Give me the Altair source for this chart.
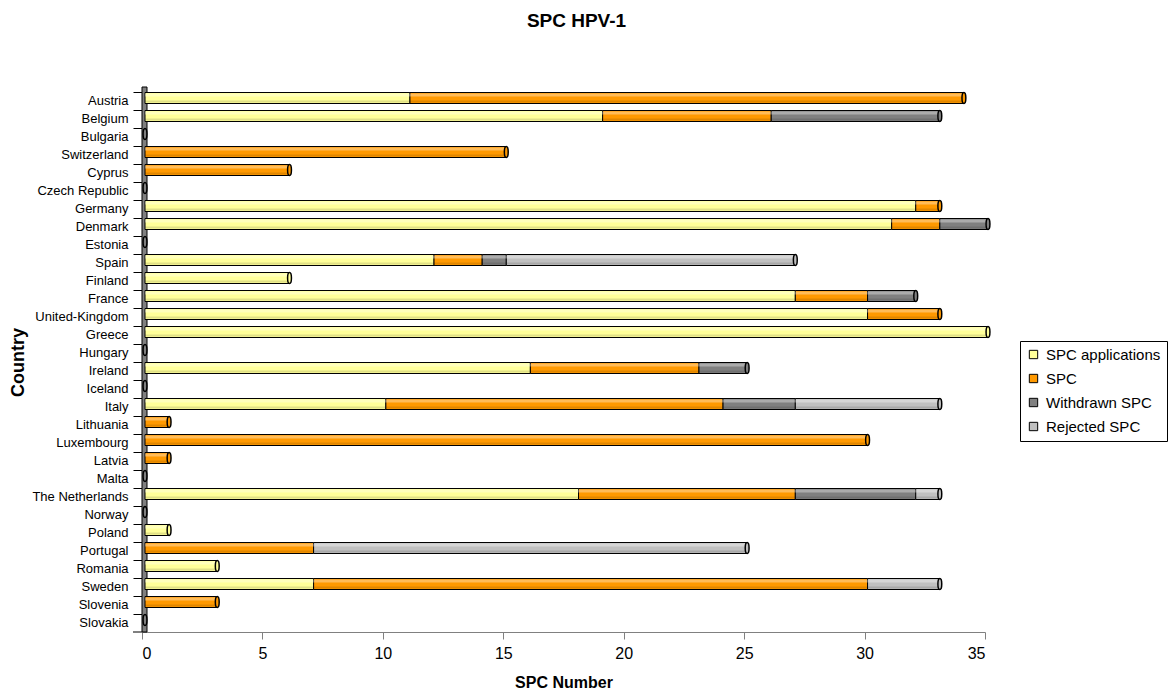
import altair as alt
import pandas as pd

countries = ["Austria", "Belgium", "Bulgaria", "Switzerland", "Cyprus", "Czech Republic",
             "Germany", "Denmark", "Estonia", "Spain", "Finland", "France", "United-Kingdom",
             "Greece", "Hungary", "Ireland", "Iceland", "Italy", "Lithuania", "Luxembourg",
             "Latvia", "Malta", "The Netherlands", "Norway", "Poland", "Portugal", "Romania",
             "Sweden", "Slovenia", "Slovakia"]
applications = [11, 19, 0, 0, 0, 0, 32, 31, 0, 12, 6, 27, 30, 35, 0, 16, 0, 10, 0, 0, 0, 0, 18, 0, 1, 0, 3, 7, 0, 0]
spc =          [23, 7, 0, 15, 6, 0, 1, 2, 0, 2, 0, 3, 3, 0, 0, 7, 0, 14, 1, 30, 1, 0, 9, 0, 0, 7, 0, 23, 3, 0]
withdrawn =    [0, 7, 0, 0, 0, 0, 0, 2, 0, 1, 0, 2, 0, 0, 0, 2, 0, 3, 0, 0, 0, 0, 5, 0, 0, 0, 0, 0, 0, 0]
rejected =     [0, 0, 0, 0, 0, 0, 0, 0, 0, 12, 0, 0, 0, 0, 0, 0, 0, 6, 0, 0, 0, 0, 1, 0, 0, 18, 0, 3, 0, 0]

series_names = ["SPC applications", "SPC", "Withdrawn SPC", "Rejected SPC"]
series_colors = ["#FFFF99", "#FF9900", "#808080", "#C0C0C0"]
x_ticks = [0, 5, 10, 15, 20, 25, 30, 35]

rows = []
caps = []
for i, c in enumerate(countries):
    start = 0
    last_color = "#808080"
    for k, vals in enumerate([applications, spc, withdrawn, rejected]):
        v = vals[i]
        if v > 0:
            rows.append(dict(country=c, series=series_names[k], order=k,
                             start=start, end=start + v))
            last_color = series_colors[k]
        start += v
    caps.append(dict(country=c, total=start, capcolor=last_color))
df = pd.DataFrame(rows)
caps_df = pd.DataFrame(caps)

FONT = "Liberation Sans"
W, H = 843, 540

xscale = alt.Scale(domain=[0, 35], nice=False, zero=True)
yscale = alt.Scale(domain=countries, paddingInner=0, paddingOuter=0)

x_axis = alt.Axis(values=x_ticks, format="d", grid=False,
                  domainColor="#808080", tickColor="#808080", tickSize=7,
                  labelFontSize=16, labelColor="black", labelFont=FONT,
                  labelPadding=6,
                  titleFontSize=16, titleFont=FONT, titleFontWeight="bold",
                  titleColor="black", titleBaseline="middle", titleY=50)
y_axis = alt.Axis(bandPosition=0, ticks=True, tickColor="black",
                  tickSize=9, tickWidth=1, domain=False, labelFontSize=13,
                  labelColor="black", labelFont=FONT, labelPadding=5,
                  titleFontSize=18, titleFont=FONT, titleFontWeight="bold",
                  titleColor="black", titleAngle=270, titleAlign="center",
                  titleBaseline="middle", titleX=-124, titleY=H / 2)

x_enc = alt.X("start:Q", scale=xscale, title="SPC Number", axis=x_axis)
y_enc = alt.Y("country:N", scale=yscale, sort=countries, title="Country", axis=y_axis)

bars = alt.Chart(df).mark_bar(size=11, xOffset=3, x2Offset=3, yOffset=-3,
                              stroke="black", strokeWidth=1).encode(
    x=x_enc,
    x2="end:Q",
    y=y_enc,
    color=alt.Color("series:N",
                    scale=alt.Scale(domain=series_names, range=series_colors),
                    legend=alt.Legend(orient="none", legendX=878, legendY=249, title=None,
                                      strokeColor="black", fillColor="white", padding=6,
                                      symbolType="square", symbolSize=70,
                                      symbolStrokeColor="black", symbolStrokeWidth=1,
                                      labelFontSize=15, labelFont=FONT, labelColor="black",
                                      rowPadding=8, labelOffset=5)),
    order=alt.Order("order:Q"),
)

highlight = alt.Chart(df).mark_bar(size=3, xOffset=3, x2Offset=3, yOffset=-6,
                                   color="white", opacity=0.35).encode(
    x=x_enc, x2="end:Q", y=y_enc,
)
shade = alt.Chart(df).mark_bar(size=2, xOffset=3, x2Offset=3, yOffset=0.5,
                               color="black", opacity=0.12).encode(
    x=x_enc, x2="end:Q", y=y_enc,
)

ellipse = ("M0,-1 C0.19,-1 0.35,-0.55 0.35,0 C0.35,0.55 0.19,1 0,1 "
           "C-0.19,1 -0.35,0.55 -0.35,0 C-0.35,-0.55 -0.19,-1 0,-1 Z")
capmarks = alt.Chart(caps_df).mark_point(shape=ellipse, size=121, filled=True,
                                         stroke="black", strokeWidth=1.5, opacity=1,
                                         xOffset=3, yOffset=-3).encode(
    x=alt.X("total:Q", scale=xscale, title="SPC Number", axis=x_axis),
    y=y_enc,
    fill=alt.Fill("capcolor:N", scale=None),
)

wall = alt.Chart(pd.DataFrame({"a": [0]})).mark_rect(
    fill="#808080", stroke="black", strokeWidth=1).encode(
    x=alt.value(0), x2=alt.value(5), y=alt.value(-5), y2=alt.value(H))

bottom_tick = alt.Chart(pd.DataFrame({"a": [0]})).mark_rule(
    color="black", strokeWidth=1).encode(
    x=alt.value(-9), x2=alt.value(0), y=alt.value(H))

chart = alt.layer(wall, bottom_tick, bars, shade, highlight, capmarks).properties(
    width=W, height=H,
    background="white",
    title=alt.TitleParams("SPC HPV-1", fontSize=19, font=FONT, fontWeight="bold",
                          color="black", anchor="middle", dx=13, offset=56),
    autosize=alt.AutoSizeParams(type="none"),
    padding={"left": 142, "top": 92, "right": 187, "bottom": 63},
).configure_view(stroke=None)

chart.save("out.html", embed_options={"renderer": "svg", "actions": False})
